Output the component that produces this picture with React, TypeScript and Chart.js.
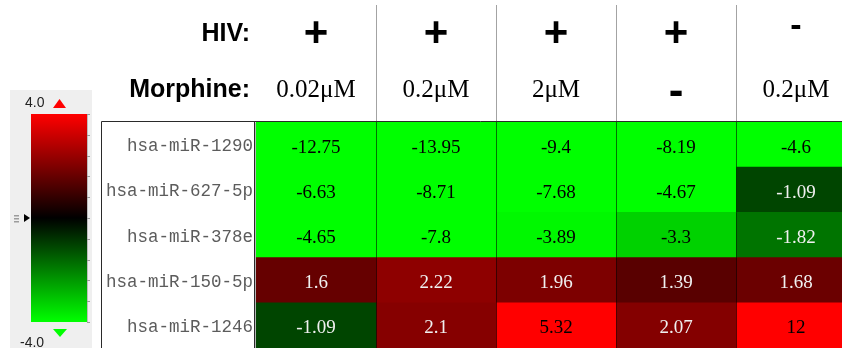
import { useEffect, useRef } from 'react';
import { Chart, registerables } from 'chart.js';

Chart.register(...registerables);

// miRNAs (rows, top to bottom)
const mirnas = ['hsa-miR-1290', 'hsa-miR-627-5p', 'hsa-miR-378e', 'hsa-miR-150-5p', 'hsa-miR-1246'];

// treatment conditions (columns, left to right)
const hivStatus = ['+', '+', '+', '+', '-'];
const morphineDose = ['0.02μM', '0.2μM', '2μM', '-', '0.2μM'];

// fold change per miRNA, one array per condition
const fcHivMorphine002 = [-12.75, -6.63, -4.65, 1.6, -1.09];
const fcHivMorphine02 = [-13.95, -8.71, -7.8, 2.22, 2.1];
const fcHivMorphine2 = [-9.4, -7.68, -3.89, 1.96, 5.32];
const fcHivOnly = [-8.19, -4.67, -3.3, 1.39, 2.07];
const fcMorphine02Only = [-4.6, -1.09, -1.82, 1.68, 12];

const foldChanges = [fcHivMorphine002, fcHivMorphine02, fcHivMorphine2, fcHivOnly, fcMorphine02Only];

// colour scale limits
const scaleMin = -4.0;
const scaleMax = 4.0;

// each heatmap cell spans one unit on the stacked x scale
const CELL_SPAN = 1;

function cellRgb(v: number): [number, number, number] {
  const lim = v >= 0 ? scaleMax : -scaleMin;
  const c = Math.round(255 * Math.min(Math.abs(v) / lim, 1));
  return v >= 0 ? [c, 0, 0] : [0, c, 0];
}

function rgb(c: [number, number, number]) {
  return `rgb(${c[0]},${c[1]},${c[2]})`;
}

// draw text so that its ink is vertically centred on cy
function fillInkCentered(ctx: CanvasRenderingContext2D, text: string, x: number, cy: number) {
  ctx.textBaseline = 'alphabetic';
  const m = ctx.measureText(text);
  ctx.fillText(text, x, cy + (m.actualBoundingBoxAscent - m.actualBoundingBoxDescent) / 2);
}

const heatmapOverlay = {
  id: 'heatmapOverlay',
  afterDatasetsDraw(chart: any) {
    const { ctx, chartArea } = chart;
    const xs = chart.scales.x;
    ctx.save();

    // column separators across the cells
    ctx.strokeStyle = 'rgba(0,0,0,0.55)';
    ctx.lineWidth = 1;
    for (let i = 1; i < foldChanges.length; i++) {
      const px = Math.round(xs.getPixelForValue(i)) + 0.5;
      ctx.beginPath();
      ctx.moveTo(px, chartArea.top);
      ctx.lineTo(px, chartArea.bottom);
      ctx.stroke();
    }

    // cell values
    ctx.font = '19px "Liberation Serif"';
    ctx.textAlign = 'center';
    ctx.textBaseline = 'middle';
    foldChanges.forEach((vals, d) => {
      const meta = chart.getDatasetMeta(d);
      meta.data.forEach((el: any, r: number) => {
        const v = vals[r];
        const c = cellRgb(v);
        const level = Math.max(c[0], c[1]);
        ctx.fillStyle = level < 180 ? '#f0f0f0' : '#000';
        ctx.fillText(String(v), (el.x + el.base) / 2, el.y + 3);
      });
    });
    ctx.restore();
  },
  afterDraw(chart: any) {
    const { ctx, chartArea, width, height } = chart;
    const xs = chart.scales.x;
    ctx.save();

    // header separators
    ctx.strokeStyle = '#a3a3a3';
    ctx.lineWidth = 1;
    for (let i = 1; i < foldChanges.length; i++) {
      const px = Math.round(xs.getPixelForValue(i)) + 0.5;
      ctx.beginPath();
      ctx.moveTo(px, 5);
      ctx.lineTo(px, chartArea.top);
      ctx.stroke();
    }

    // frame around the row labels and the top edge of the table
    const boxLeft = 101.5;
    const boxRight = chartArea.left - 1.5;
    const topY = chartArea.top - 0.5;
    ctx.strokeStyle = '#2a2a2a';
    ctx.beginPath();
    ctx.moveTo(boxLeft, height);
    ctx.lineTo(boxLeft, topY);
    ctx.lineTo(width, topY);
    ctx.moveTo(boxRight, topY);
    ctx.lineTo(boxRight, height);
    ctx.stroke();
    ctx.strokeStyle = '#b5b5b5';
    ctx.beginPath();
    ctx.moveTo(boxRight + 1, topY + 1);
    ctx.lineTo(boxRight + 1, height);
    ctx.stroke();

    // header row titles
    ctx.fillStyle = '#000';
    ctx.textAlign = 'right';
    ctx.textBaseline = 'alphabetic';
    ctx.font = 'bold 25px "Liberation Sans"';
    ctx.fillText('HIV:', 250, 41);
    ctx.fillText('Morphine:', 250, 97);

    // header values per column
    ctx.textAlign = 'center';
    for (let i = 0; i < foldChanges.length; i++) {
      const cx = xs.getPixelForValue(i + 0.5);
      const sign = hivStatus[i];
      if (sign === '+') {
        ctx.font = 'bold 42px "Liberation Sans"';
        fillInkCentered(ctx, '+', cx, 32);
      } else {
        ctx.font = 'bold 34px "Liberation Sans"';
        fillInkCentered(ctx, '-', cx, 27);
      }
      const dose = morphineDose[i];
      if (dose === '-') {
        ctx.font = 'bold 44px "Liberation Sans"';
        fillInkCentered(ctx, '-', cx, 93);
      } else {
        ctx.font = '25px "Liberation Serif"';
        ctx.textBaseline = 'alphabetic';
        ctx.fillText(dose, cx, 97);
      }
    }

    // colour scale legend
    const panel = { x: 10, y: 90, w: 82, h: height - 90 };
    ctx.fillStyle = '#efefef';
    ctx.fillRect(panel.x, panel.y, panel.w, panel.h);

    const bar = { x: 31, y: 114, w: 56, h: 208 };
    const grad = ctx.createLinearGradient(0, bar.y, 0, bar.y + bar.h);
    grad.addColorStop(0, rgb(cellRgb(scaleMax)));
    grad.addColorStop(0.5, 'rgb(0,0,0)');
    grad.addColorStop(1, rgb(cellRgb(scaleMin)));
    ctx.fillStyle = grad;
    ctx.fillRect(bar.x, bar.y, bar.w, bar.h);

    // tick strip on the right of the gradient
    ctx.strokeStyle = '#bdbdbd';
    ctx.beginPath();
    ctx.moveTo(bar.x + bar.w + 0.5, bar.y);
    ctx.lineTo(bar.x + bar.w + 0.5, bar.y + bar.h);
    ctx.stroke();
    ctx.strokeStyle = '#9a9a9a';
    for (let k = 0; k <= 10; k++) {
      const ty = Math.round(bar.y + (bar.h * k) / 10) + 0.5;
      ctx.beginPath();
      ctx.moveTo(bar.x + bar.w, ty);
      ctx.lineTo(bar.x + bar.w + 3, ty);
      ctx.stroke();
    }

    ctx.font = '14px "Liberation Sans"';
    ctx.fillStyle = '#222';
    ctx.textAlign = 'left';
    ctx.textBaseline = 'alphabetic';
    ctx.fillText(scaleMax.toFixed(1), 25, 107);
    ctx.fillText(scaleMin.toFixed(1), 20, 347);

    // end arrows
    ctx.fillStyle = rgb(cellRgb(scaleMax));
    ctx.beginPath();
    ctx.moveTo(53, 108);
    ctx.lineTo(66, 108);
    ctx.lineTo(59.5, 99);
    ctx.closePath();
    ctx.fill();
    ctx.fillStyle = rgb(cellRgb(scaleMin));
    ctx.beginPath();
    ctx.moveTo(53, 329);
    ctx.lineTo(67, 329);
    ctx.lineTo(60, 337);
    ctx.closePath();
    ctx.fill();

    // midpoint marker and grip
    const midY = bar.y + bar.h / 2;
    ctx.fillStyle = '#000';
    ctx.beginPath();
    ctx.moveTo(24, midY - 4);
    ctx.lineTo(30, midY);
    ctx.lineTo(24, midY + 4);
    ctx.closePath();
    ctx.fill();
    ctx.fillStyle = '#9c9c9c';
    ctx.fillRect(14, midY - 3, 5, 1.5);
    ctx.fillRect(14, midY, 5, 1.5);
    ctx.fillRect(14, midY + 3, 5, 1.5);

    ctx.restore();
  },
};

export default function App() {
  const canvasRef = useRef<HTMLCanvasElement | null>(null);

  useEffect(() => {
    const canvas = canvasRef.current;
    if (!canvas) return;
    const chart = new Chart(canvas, {
      type: 'bar',
      data: {
        labels: mirnas,
        datasets: foldChanges.map((vals, i) => ({
          label: `HIV ${hivStatus[i]} / Morphine ${morphineDose[i]}`,
          data: vals.map(() => CELL_SPAN),
          backgroundColor: vals.map((v) => rgb(cellRgb(v))),
          borderWidth: 0,
          categoryPercentage: 1,
          barPercentage: 1,
        })),
      },
      options: {
        indexAxis: 'y',
        responsive: false,
        animation: false,
        devicePixelRatio: 1,
        layout: { padding: { top: 122, right: 4, bottom: 0, left: 0 } },
        scales: {
          x: {
            type: 'linear',
            stacked: true,
            min: 0,
            max: foldChanges.length * CELL_SPAN,
            display: false,
          },
          y: {
            type: 'category',
            stacked: true,
            grid: { display: false, drawTicks: false },
            border: { display: false },
            ticks: {
              font: { family: '"Liberation Mono"', size: 17.5 },
              color: '#5c5c5c',
              padding: 3,
              labelOffset: 2,
            },
            afterFit: (scale: any) => {
              scale.width = 256;
              scale.paddingTop = 0;
              scale.paddingBottom = 0;
            },
          },
        },
        plugins: {
          legend: { display: false },
          tooltip: { enabled: false },
        },
      },
      plugins: [heatmapOverlay],
    });
    return () => chart.destroy();
  }, []);

  return (
    <div
      style={{
        position: 'fixed',
        left: 0,
        top: 0,
        width: 842,
        height: 348,
        overflow: 'hidden',
        background: '#fff',
      }}
    >
      <canvas ref={canvasRef} width={860} height={348} style={{ display: 'block' }} />
    </div>
  );
}
